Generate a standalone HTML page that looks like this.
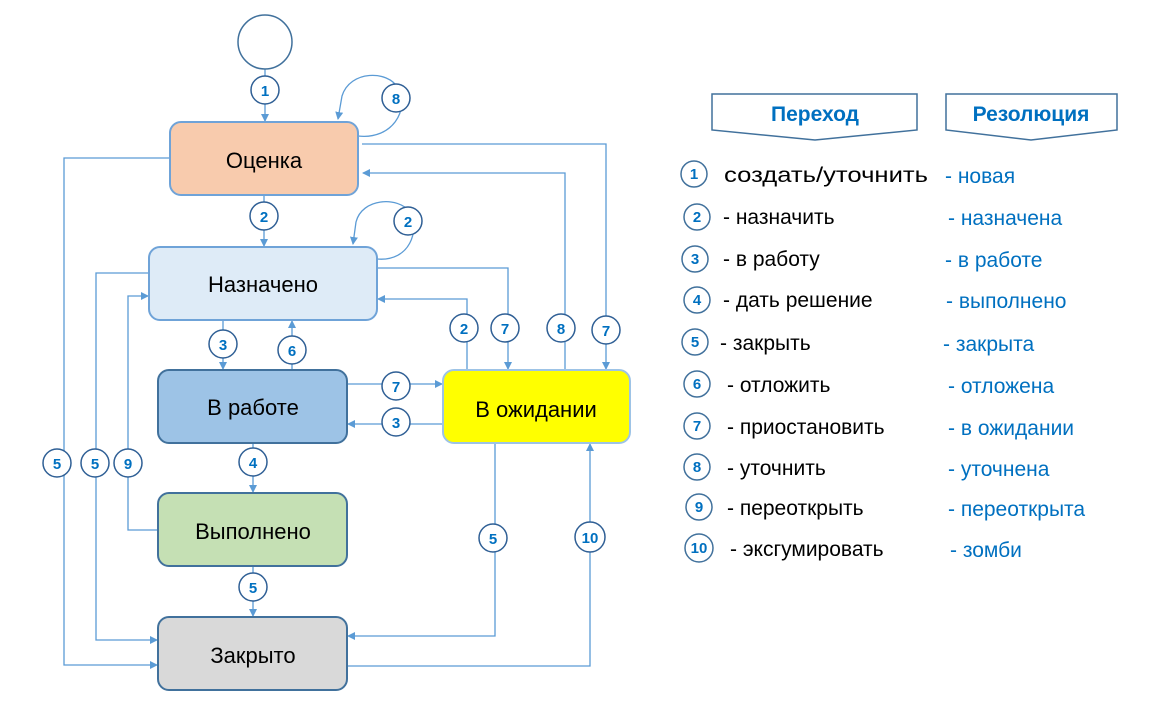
<!DOCTYPE html>
<html><head><meta charset="utf-8"><style>body{margin:0;background:#fff}svg{display:block}</style></head><body>
<svg width="1172" height="706" viewBox="0 0 1172 706" xmlns="http://www.w3.org/2000/svg" font-family="'Liberation Sans', sans-serif">
<defs>
<marker id="a" markerWidth="8" markerHeight="8" refX="7" refY="4" orient="auto" markerUnits="userSpaceOnUse"><path d="M0,0 L8,4 L0,8 z" fill="#5b9bd5"/></marker>
</defs>
<g fill="none" stroke="#5b9bd5" stroke-width="1.3">
<path d="M265,69 V121" marker-end="url(#a)"/>
<path d="M358,136 C392,140 410,110 398,88 C388,70 350,70 342,96 L338,119" marker-end="url(#a)"/>
<path d="M264,195 V246" marker-end="url(#a)"/>
<path d="M377,259 C410,262 420,230 410,212 C398,196 362,198 356,222 L353,244" marker-end="url(#a)"/>
<path d="M170,158 H64 V665 H157" marker-end="url(#a)"/>
<path d="M362,144 H606 V369" marker-end="url(#a)"/>
<path d="M565,370 V173 H363" marker-end="url(#a)"/>
<path d="M149,273 H96 V640 H157" marker-end="url(#a)"/>
<path d="M158,530 H128 V296 H148" marker-end="url(#a)"/>
<path d="M377,268 H508 V369" marker-end="url(#a)"/>
<path d="M467,370 V299 H378" marker-end="url(#a)"/>
<path d="M223,320 V369" marker-end="url(#a)"/>
<path d="M292,370 V321" marker-end="url(#a)"/>
<path d="M347,384 H442" marker-end="url(#a)"/>
<path d="M443,424 H348" marker-end="url(#a)"/>
<path d="M253,443 V492" marker-end="url(#a)"/>
<path d="M253,566 V616" marker-end="url(#a)"/>
<path d="M495,443 V636 H348" marker-end="url(#a)"/>
<path d="M347,666 H590 V444" marker-end="url(#a)"/>
</g>
<circle cx="265" cy="42" r="27" fill="#fff" stroke="#41719c" stroke-width="1.5"/>
<g stroke-width="2">
<rect x="170" y="122" width="188" height="73" rx="11" fill="#f8cbad" stroke="#6fa3d8"/>
<rect x="149" y="247" width="228" height="73" rx="11" fill="#deebf7" stroke="#6fa3d8"/>
<rect x="158" y="370" width="189" height="73" rx="11" fill="#9dc3e6" stroke="#41719c"/>
<rect x="443" y="370" width="187" height="73" rx="11" fill="#ffff00" stroke="#9dc3e6"/>
<rect x="158" y="493" width="189" height="73" rx="11" fill="#c5e0b4" stroke="#41719c"/>
<rect x="158" y="617" width="189" height="73" rx="11" fill="#d9d9d9" stroke="#41719c"/>
</g>
<g font-size="22" text-anchor="middle" fill="#000">
<text x="264" y="168">Оценка</text>
<text x="263" y="292">Назначено</text>
<text x="253" y="415">В работе</text>
<text x="536" y="417">В ожидании</text>
<text x="253" y="539">Выполнено</text>
<text x="253" y="663">Закрыто</text>
</g>
<g font-size="15" font-weight="bold" fill="#0070c0" text-anchor="middle">
<g fill="#fff" stroke="#2f5f95" stroke-width="1.5">
<circle cx="265" cy="90" r="14"/><circle cx="396" cy="98" r="14"/><circle cx="264" cy="216" r="14"/><circle cx="408" cy="221" r="14"/>
<circle cx="223" cy="344" r="14"/><circle cx="292" cy="350" r="14"/><circle cx="464" cy="328" r="14"/><circle cx="505" cy="328" r="14"/>
<circle cx="561" cy="328" r="14"/><circle cx="606" cy="330" r="14"/><circle cx="396" cy="386" r="14"/><circle cx="396" cy="422" r="14"/>
<circle cx="57" cy="463" r="14"/><circle cx="95" cy="463" r="14"/><circle cx="128" cy="463" r="14"/><circle cx="253" cy="462" r="14"/>
<circle cx="253" cy="587" r="14"/><circle cx="493" cy="538" r="14"/><circle cx="590" cy="537" r="15"/>
</g>
<text x="265" y="96">1</text><text x="396" y="104">8</text><text x="264" y="222">2</text><text x="408" y="227">2</text>
<text x="223" y="350">3</text><text x="292" y="356">6</text><text x="464" y="334">2</text><text x="505" y="334">7</text>
<text x="561" y="334">8</text><text x="606" y="336">7</text><text x="396" y="392">7</text><text x="396" y="428">3</text>
<text x="57" y="469">5</text><text x="95" y="469">5</text><text x="128" y="469">9</text><text x="253" y="468">4</text>
<text x="253" y="593">5</text><text x="493" y="544">5</text><text x="590" y="543">10</text>
</g>
<g fill="#fff" stroke="#41719c" stroke-width="1.5">
<path d="M712,94 H917 V130 L815,140 L712,130 Z"/>
<path d="M946,94 H1117 V130 L1031,140 L946,130 Z"/>
</g>
<g font-size="21" font-weight="bold" fill="#0070c0" text-anchor="middle">
<text x="815" y="121">Переход</text>
<text x="1031" y="121">Резолюция</text>
</g>
<g fill="#fff" stroke="#41719c" stroke-width="1.5">
<circle cx="694" cy="174" r="13"/><circle cx="697" cy="217" r="13"/><circle cx="695" cy="259" r="13"/><circle cx="697" cy="300" r="13"/><circle cx="695" cy="342" r="13"/>
<circle cx="697" cy="384" r="13"/><circle cx="697" cy="426" r="13"/><circle cx="697" cy="467" r="13"/><circle cx="699" cy="507" r="13"/><circle cx="699" cy="548" r="14"/>
</g>
<g font-size="15" font-weight="bold" fill="#0070c0" text-anchor="middle">
<text x="694" y="179">1</text><text x="697" y="222">2</text><text x="695" y="264">3</text><text x="697" y="305">4</text><text x="695" y="347">5</text>
<text x="697" y="389">6</text><text x="697" y="431">7</text><text x="697" y="472">8</text><text x="699" y="512">9</text><text x="699" y="553">10</text>
</g>
<g font-size="21" fill="#000">
<text x="724" y="182" textLength="204" lengthAdjust="spacingAndGlyphs">создать/уточнить</text>
<text x="723" y="224">- назначить</text>
<text x="723" y="266">- в работу</text>
<text x="723" y="307">- дать решение</text>
<text x="720" y="350">- закрыть</text>
<text x="727" y="392">- отложить</text>
<text x="727" y="434">- приостановить</text>
<text x="727" y="475">- уточнить</text>
<text x="727" y="515">- переоткрыть</text>
<text x="730" y="556">- эксгумировать</text>
</g>
<g font-size="21" fill="#0070c0">
<text x="945" y="183">- новая</text>
<text x="948" y="225">- назначена</text>
<text x="945" y="267">- в работе</text>
<text x="946" y="308">- выполнено</text>
<text x="943" y="351">- закрыта</text>
<text x="948" y="393">- отложена</text>
<text x="948" y="435">- в ожидании</text>
<text x="948" y="476">- уточнена</text>
<text x="948" y="516">- переоткрыта</text>
<text x="950" y="557">- зомби</text>
</g>
</svg>
</body></html>
